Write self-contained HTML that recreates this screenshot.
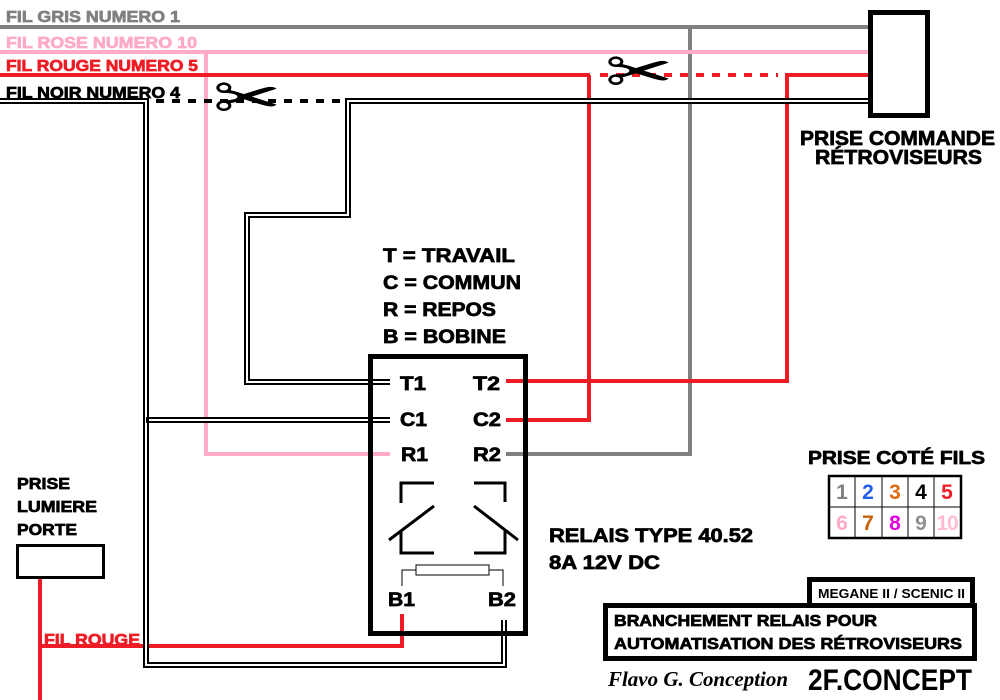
<!DOCTYPE html>
<html><head><meta charset="utf-8"><style>
body{margin:0;width:1000px;height:700px;background:#fff;overflow:hidden;position:relative;font-family:"Liberation Sans",Arial,sans-serif;font-weight:bold}
svg{position:absolute;left:0;top:0}
text.b{stroke-width:0.7}
</style></head><body>
<svg width="1000" height="700" viewBox="0 0 1000 700" font-family="Liberation Sans, Arial, sans-serif" font-weight="bold">
<polyline points="0,27 868,27" stroke="#808080" stroke-width="4" fill="none"/>
<polyline points="690,27 690,454 506,454" stroke="#808080" stroke-width="4" fill="none"/>
<polyline points="0,52 868,52" stroke="#ffaac8" stroke-width="4" fill="none"/>
<polyline points="206,52 206,454 390,454" stroke="#ffaac8" stroke-width="4" fill="none"/>
<polyline points="0,75 590,75" stroke="#ee1c24" stroke-width="4" fill="none"/>
<polyline points="589,75 589,420 506,420" stroke="#ee1c24" stroke-width="4" fill="none"/>
<line x1="600" y1="75" x2="778" y2="75" stroke="#ee1c24" stroke-width="4" stroke-dasharray="8,8"/>
<polyline points="868,75 787,75 787,381 506,381" stroke="#ee1c24" stroke-width="4" fill="none"/>
<polyline points="402,614 402,646 40,646" stroke="#ee1c24" stroke-width="4" fill="none"/>
<line x1="40" y1="578" x2="40" y2="700" stroke="#ee1c24" stroke-width="4"/>
<g fill="none" stroke-linejoin="miter">
<polyline points="0,101 146,101 146,665 504,665 504,620" stroke="#000" stroke-width="6"/>
<polyline points="0,101 146,101 146,665 504,665 504,620" stroke="#fff" stroke-width="2"/>
<polyline points="146,420 390,420" stroke="#000" stroke-width="6"/>
<polyline points="149,420 390,420" stroke="#fff" stroke-width="2"/>
<polyline points="868,101 348,101 348,215 247,215 247,382 390,382" stroke="#000" stroke-width="6"/>
<polyline points="868,101 348,101 348,215 247,215 247,382 390,382" stroke="#fff" stroke-width="2"/>
</g>
<line x1="156" y1="101" x2="340" y2="101" stroke="#000" stroke-width="4" stroke-dasharray="8,8"/>
<text x="213" y="120" font-size="64" font-weight="normal" font-family="DejaVu Sans, sans-serif" textLength="68" lengthAdjust="spacingAndGlyphs">✂</text>
<text x="605" y="94" font-size="64" font-weight="normal" font-family="DejaVu Sans, sans-serif" textLength="68" lengthAdjust="spacingAndGlyphs">✂</text>
<g font-size="16">
<text class="b" stroke="#808080" x="6" y="22" fill="#808080" textLength="174" lengthAdjust="spacingAndGlyphs">FIL GRIS NUMERO 1</text>
<text class="b" stroke="#ffaac8" x="6" y="48" fill="#ffaac8" textLength="191" lengthAdjust="spacingAndGlyphs">FIL ROSE NUMERO 10</text>
<text class="b" stroke="#ee1c24" x="6" y="71" fill="#ee1c24" textLength="192" lengthAdjust="spacingAndGlyphs">FIL ROUGE NUMERO 5</text>
<text class="b" stroke="#000" x="6" y="98" fill="#000" textLength="174" lengthAdjust="spacingAndGlyphs">FIL NOIR NUMERO 4</text>
</g>
<rect x="870.5" y="12.5" width="57" height="103" fill="#fff" stroke="#000" stroke-width="5"/>
<g stroke="#000" fill="#000">
<text class="b" x="800" y="145" font-size="20" textLength="195" lengthAdjust="spacingAndGlyphs">PRISE COMMANDE</text>
<text class="b" x="815" y="164" font-size="20" textLength="167" lengthAdjust="spacingAndGlyphs">RÉTROVISEURS</text>
<text class="b" x="383" y="262" font-size="19" textLength="132" lengthAdjust="spacingAndGlyphs">T = TRAVAIL</text>
<text class="b" x="383" y="289" font-size="19" textLength="138" lengthAdjust="spacingAndGlyphs">C = COMMUN</text>
<text class="b" x="383" y="316" font-size="19" textLength="113" lengthAdjust="spacingAndGlyphs">R = REPOS</text>
<text class="b" x="383" y="343" font-size="19" textLength="123" lengthAdjust="spacingAndGlyphs">B = BOBINE</text>
<g font-size="19">
<text class="b" x="400" y="390" textLength="26" lengthAdjust="spacingAndGlyphs">T1</text><text class="b" x="473" y="390" textLength="27" lengthAdjust="spacingAndGlyphs">T2</text>
<text class="b" x="400" y="426" textLength="27" lengthAdjust="spacingAndGlyphs">C1</text><text class="b" x="473" y="426" textLength="28" lengthAdjust="spacingAndGlyphs">C2</text>
<text class="b" x="401" y="461" textLength="27" lengthAdjust="spacingAndGlyphs">R1</text><text class="b" x="473" y="461" textLength="28" lengthAdjust="spacingAndGlyphs">R2</text>
<text class="b" x="388" y="606" textLength="27" lengthAdjust="spacingAndGlyphs">B1</text><text class="b" x="488" y="606" textLength="28" lengthAdjust="spacingAndGlyphs">B2</text>
</g>
<text class="b" x="549" y="542" font-size="19" textLength="204" lengthAdjust="spacingAndGlyphs">RELAIS TYPE 40.52</text>
<text class="b" x="549" y="569" font-size="19" textLength="111" lengthAdjust="spacingAndGlyphs">8A 12V DC</text>
<text class="b" x="17" y="489" font-size="16" textLength="53" lengthAdjust="spacingAndGlyphs">PRISE</text>
<text class="b" x="17" y="512" font-size="16" textLength="80" lengthAdjust="spacingAndGlyphs">LUMIERE</text>
<text class="b" x="17" y="535" font-size="16" textLength="60" lengthAdjust="spacingAndGlyphs">PORTE</text>
<text class="b" x="808" y="464" font-size="18" textLength="177" lengthAdjust="spacingAndGlyphs">PRISE COTÉ FILS</text>
</g>
<rect x="370.5" y="356.5" width="155" height="277" fill="none" stroke="#000" stroke-width="5"/>
<g stroke="#000" stroke-width="3" fill="none">
<polyline points="434,483 401,483 401,503"/>
<polyline points="434,553 401,553 401,531"/>
<line x1="434" y1="506" x2="389" y2="540"/>
<polyline points="474,483 505,483 505,502"/>
<polyline points="474,553 505,553 505,531"/>
<line x1="474" y1="506" x2="518" y2="540"/>
</g>
<g stroke="#000" stroke-width="1" fill="none">
<rect x="416" y="565" width="73" height="10"/>
<polyline points="416,570 402,570 402,586"/>
<polyline points="489,570 503,570 503,586"/>
</g>
<rect x="17.5" y="545.5" width="86" height="32" fill="none" stroke="#000" stroke-width="3"/>
<text class="b" stroke="#ee1c24" x="44" y="645" font-size="16" fill="#ee1c24" textLength="96" lengthAdjust="spacingAndGlyphs">FIL ROUGE</text>
<rect x="829" y="476" width="132" height="62" fill="#fff" stroke="#000" stroke-width="2.5"/>
<g stroke="#000" stroke-width="1">
<line x1="829" y1="507" x2="961" y2="507"/>
<line x1="855" y1="476" x2="855" y2="538"/><line x1="882" y1="476" x2="882" y2="538"/>
<line x1="908" y1="476" x2="908" y2="538"/><line x1="934" y1="476" x2="934" y2="538"/>
</g>
<g font-size="21" text-anchor="middle">
<text x="842" y="499" fill="#808080">1</text><text x="868" y="499" fill="#1f5fe8">2</text>
<text x="895" y="499" fill="#e06a10">3</text><text x="921" y="499" fill="#000">4</text>
<text x="947" y="499" fill="#ee1c24">5</text>
<text x="842" y="530" fill="#ffaac8">6</text><text x="868" y="530" fill="#c8600a">7</text>
<text x="895" y="530" fill="#e000e0">8</text><text x="921" y="530" fill="#909090">9</text>
<text x="947" y="530" fill="#ffbcd4" letter-spacing="-1">10</text>
</g>
<rect x="809.5" y="579.5" width="163" height="26" fill="#fff" stroke="#000" stroke-width="5"/>
<text x="818" y="598" font-size="13" textLength="147" lengthAdjust="spacingAndGlyphs">MEGANE II / SCENIC II</text>
<rect x="605.5" y="605.5" width="369" height="53" fill="#fff" stroke="#000" stroke-width="5"/>
<g stroke="#000">
<text class="b" x="614" y="626" font-size="16" textLength="263" lengthAdjust="spacingAndGlyphs">BRANCHEMENT RELAIS POUR</text>
<text class="b" x="614" y="649" font-size="16" textLength="348" lengthAdjust="spacingAndGlyphs">AUTOMATISATION DES RÉTROVISEURS</text>
</g>
<text x="608" y="686" font-size="21" font-style="italic" font-family="Liberation Serif, serif" textLength="180" lengthAdjust="spacingAndGlyphs">Flavo G. Conception</text>
<text x="808" y="690" font-size="30" font-weight="900" textLength="164" lengthAdjust="spacingAndGlyphs">2F.CONCEPT</text>
</svg>
</body></html>
